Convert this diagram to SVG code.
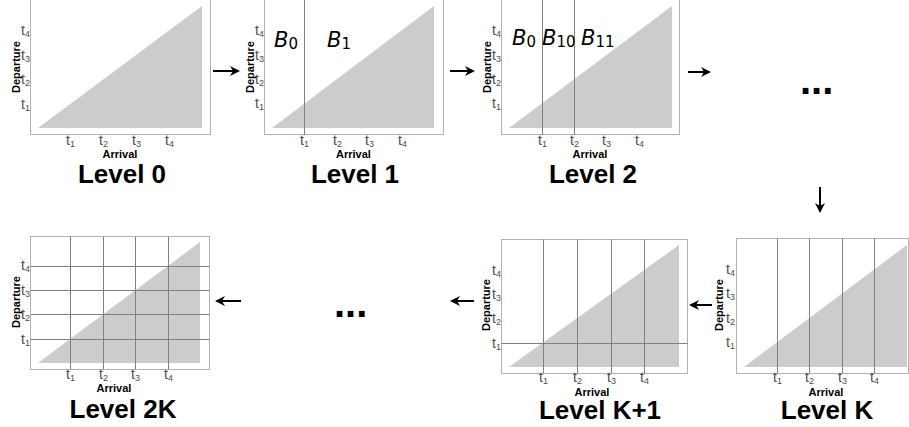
<svg xmlns="http://www.w3.org/2000/svg" width="909" height="427" viewBox="0 0 909 427">
<style>
.bg{fill:#ffffff}
.border{fill:none;stroke:#b3b3b3;stroke-width:1}
.tri{fill:#cccccc}
.grid{stroke:#808080;stroke-width:1;fill:none}
.tick{font-family:"Liberation Sans",Arial,sans-serif;font-size:14px;fill:#4d4d4d}
.sub{font-size:9px}
.axt{font-family:"Liberation Sans",Arial,sans-serif;font-weight:bold;font-size:11px;fill:#000}
.title{font-family:"Liberation Sans",Arial,sans-serif;font-weight:bold;font-size:26px;fill:#000;text-anchor:middle}
.B{font-family:"DejaVu Sans",sans-serif;font-style:italic;font-size:21px;fill:#000}
.Bs{font-style:normal;font-size:15px}
.dots{font-family:"Liberation Sans",Arial,sans-serif;font-weight:bold;font-size:40px;fill:#000}
.conn{stroke:#000;stroke-width:2;fill:none;marker-end:url(#ah)}
</style>
<defs>
<marker id="ah" viewBox="0 0 10 10" refX="8" refY="5" markerWidth="10" markerHeight="10" markerUnits="userSpaceOnUse" orient="auto">
<path d="M0,0 L10,5 L0,10 L3,5 Z" fill="#000"/>
</marker>
</defs>
<rect class="bg" x="0" y="0" width="909" height="427"/>

<g id="level-0">
<rect class="border" x="30.5" y="-0.5" width="180" height="135"/>
<polygon class="tri" points="38,128 202,6 202,128"/>
<g class="tick" text-anchor="end">
<text x="30" y="108.5">t<tspan class="sub" dy="2">1</tspan></text>
<text x="30" y="84">t<tspan class="sub" dy="2">2</tspan></text>
<text x="30" y="59.5">t<tspan class="sub" dy="2">3</tspan></text>
<text x="30" y="35">t<tspan class="sub" dy="2">4</tspan></text>
</g>
<g class="tick">
<text x="66" y="145">t<tspan class="sub" dy="2">1</tspan></text>
<text x="99" y="145">t<tspan class="sub" dy="2">2</tspan></text>
<text x="132" y="145">t<tspan class="sub" dy="2">3</tspan></text>
<text x="165" y="145">t<tspan class="sub" dy="2">4</tspan></text>
</g>
<text class="axt" text-anchor="middle" transform="translate(20,67) rotate(-90)">Departure</text>
<text class="axt" text-anchor="middle" x="120" y="158">Arrival</text>
<text class="title" x="122" y="183">Level 0</text>
</g>

<g id="level-1">
<rect class="border" x="264.5" y="-0.5" width="179" height="135"/>
<polygon class="tri" points="272,128 434,6 434,128"/>
<line class="grid" x1="304.5" y1="0" x2="304.5" y2="135"/>
<g class="tick" text-anchor="end">
<text x="264" y="108.4">t<tspan class="sub" dy="2">1</tspan></text>
<text x="264" y="83.6">t<tspan class="sub" dy="2">2</tspan></text>
<text x="264" y="59.5">t<tspan class="sub" dy="2">3</tspan></text>
<text x="264" y="34.6">t<tspan class="sub" dy="2">4</tspan></text>
</g>
<g class="tick">
<text x="300" y="145">t<tspan class="sub" dy="2">1</tspan></text>
<text x="333" y="145">t<tspan class="sub" dy="2">2</tspan></text>
<text x="365" y="145">t<tspan class="sub" dy="2">3</tspan></text>
<text x="398" y="145">t<tspan class="sub" dy="2">4</tspan></text>
</g>
<text class="axt" text-anchor="middle" transform="translate(254,67) rotate(-90)">Departure</text>
<text class="axt" text-anchor="middle" x="353.5" y="158">Arrival</text>
<text class="title" x="355" y="183">Level 1</text>
<text class="B" x="274" y="47">B<tspan class="Bs" dy="2">0</tspan></text>
<text class="B" x="327" y="47">B<tspan class="Bs" dy="2">1</tspan></text>
</g>

<g id="level-2">
<rect class="border" x="501.5" y="-0.5" width="178" height="135"/>
<polygon class="tri" points="509,128 672,6 672,128"/>
<line class="grid" x1="542.5" y1="0" x2="542.5" y2="135"/>
<line class="grid" x1="574.5" y1="0" x2="574.5" y2="135"/>
<g class="tick" text-anchor="end">
<text x="501" y="107.8">t<tspan class="sub" dy="2">1</tspan></text>
<text x="501" y="83.9">t<tspan class="sub" dy="2">2</tspan></text>
<text x="501" y="59.9">t<tspan class="sub" dy="2">3</tspan></text>
<text x="501" y="35.2">t<tspan class="sub" dy="2">4</tspan></text>
</g>
<g class="tick">
<text x="538" y="145">t<tspan class="sub" dy="2">1</tspan></text>
<text x="570" y="145">t<tspan class="sub" dy="2">2</tspan></text>
<text x="602" y="145">t<tspan class="sub" dy="2">3</tspan></text>
<text x="635" y="145">t<tspan class="sub" dy="2">4</tspan></text>
</g>
<text class="axt" text-anchor="middle" transform="translate(491,67) rotate(-90)">Departure</text>
<text class="axt" text-anchor="middle" x="590" y="158">Arrival</text>
<text class="title" x="593" y="183">Level 2</text>
<text class="B" x="512" y="45">B<tspan class="Bs" dy="2">0</tspan></text>
<text class="B" x="542" y="45">B<tspan class="Bs" dy="2">10</tspan></text>
<text class="B" x="581" y="45">B<tspan class="Bs" dy="2">11</tspan></text>
</g>

<g id="ellipsis-top">
<text class="dots" x="800" y="94">...</text>
</g>

<g id="level-k">
<rect class="border" x="736.5" y="238.5" width="172" height="135"/>
<polygon class="tri" points="744,367 907,245 907,367"/>
<line class="grid" x1="777.5" y1="238.5" x2="777.5" y2="373.5"/>
<line class="grid" x1="809.5" y1="238.5" x2="809.5" y2="373.5"/>
<line class="grid" x1="842.5" y1="238.5" x2="842.5" y2="373.5"/>
<line class="grid" x1="874.5" y1="238.5" x2="874.5" y2="373.5"/>
<g class="tick" text-anchor="end">
<text x="735" y="346.8">t<tspan class="sub" dy="2">1</tspan></text>
<text x="735" y="322.9">t<tspan class="sub" dy="2">2</tspan></text>
<text x="735" y="298.2">t<tspan class="sub" dy="2">3</tspan></text>
<text x="735" y="274.2">t<tspan class="sub" dy="2">4</tspan></text>
</g>
<g class="tick">
<text x="773" y="382">t<tspan class="sub" dy="2">1</tspan></text>
<text x="805" y="382">t<tspan class="sub" dy="2">2</tspan></text>
<text x="838" y="382">t<tspan class="sub" dy="2">3</tspan></text>
<text x="870" y="382">t<tspan class="sub" dy="2">4</tspan></text>
</g>
<text class="axt" text-anchor="middle" transform="translate(723,305) rotate(-90)">Departure</text>
<text class="axt" text-anchor="middle" x="826" y="396">Arrival</text>
<text class="title" x="827" y="419">Level K</text>
</g>

<g id="level-k1">
<rect class="border" x="501.5" y="239.5" width="186" height="134"/>
<polygon class="tri" points="509,367 679,245 679,367"/>
<line class="grid" x1="543.5" y1="239.5" x2="543.5" y2="373.5"/>
<line class="grid" x1="577.5" y1="239.5" x2="577.5" y2="373.5"/>
<line class="grid" x1="611.5" y1="239.5" x2="611.5" y2="373.5"/>
<line class="grid" x1="644.5" y1="239.5" x2="644.5" y2="373.5"/>
<line class="grid" x1="501.5" y1="343.5" x2="687.5" y2="343.5"/>
<g class="tick" text-anchor="end">
<text x="501" y="347.5">t<tspan class="sub" dy="2">1</tspan></text>
<text x="501" y="323">t<tspan class="sub" dy="2">2</tspan></text>
<text x="501" y="298.5">t<tspan class="sub" dy="2">3</tspan></text>
<text x="501" y="274.5">t<tspan class="sub" dy="2">4</tspan></text>
</g>
<g class="tick">
<text x="539" y="382">t<tspan class="sub" dy="2">1</tspan></text>
<text x="573" y="382">t<tspan class="sub" dy="2">2</tspan></text>
<text x="607" y="382">t<tspan class="sub" dy="2">3</tspan></text>
<text x="640" y="382">t<tspan class="sub" dy="2">4</tspan></text>
</g>
<text class="axt" text-anchor="middle" transform="translate(490,305) rotate(-90)">Departure</text>
<text class="axt" text-anchor="middle" x="592" y="396">Arrival</text>
<text class="title" x="600" y="419">Level K+1</text>
</g>

<g id="ellipsis-bottom">
<text class="dots" x="334" y="317">...</text>
</g>

<g id="level-2k">
<rect class="border" x="30.5" y="236.5" width="179" height="133"/>
<polygon class="tri" points="38,363 200,242 200,363"/>
<line class="grid" x1="70.5" y1="236.5" x2="70.5" y2="369.5"/>
<line class="grid" x1="103.5" y1="236.5" x2="103.5" y2="369.5"/>
<line class="grid" x1="135.5" y1="236.5" x2="135.5" y2="369.5"/>
<line class="grid" x1="168.5" y1="236.5" x2="168.5" y2="369.5"/>
<line class="grid" x1="30.5" y1="339.5" x2="209.5" y2="339.5"/>
<line class="grid" x1="30.5" y1="314.5" x2="209.5" y2="314.5"/>
<line class="grid" x1="30.5" y1="290.5" x2="209.5" y2="290.5"/>
<line class="grid" x1="30.5" y1="266.5" x2="209.5" y2="266.5"/>
<g class="tick" text-anchor="end">
<text x="30" y="343.6">t<tspan class="sub" dy="2">1</tspan></text>
<text x="30" y="319">t<tspan class="sub" dy="2">2</tspan></text>
<text x="30" y="295">t<tspan class="sub" dy="2">3</tspan></text>
<text x="30" y="270.4">t<tspan class="sub" dy="2">4</tspan></text>
</g>
<g class="tick">
<text x="66" y="379">t<tspan class="sub" dy="2">1</tspan></text>
<text x="99" y="379">t<tspan class="sub" dy="2">2</tspan></text>
<text x="131" y="379">t<tspan class="sub" dy="2">3</tspan></text>
<text x="164" y="379">t<tspan class="sub" dy="2">4</tspan></text>
</g>
<text class="axt" text-anchor="middle" transform="translate(20,302) rotate(-90)">Departure</text>
<text class="axt" text-anchor="middle" x="114" y="392">Arrival</text>
<text class="title" x="123" y="418">Level 2K</text>
</g>

<g id="connectors">
<line class="conn" x1="213" y1="71" x2="238" y2="71"/>
<line class="conn" x1="450" y1="71" x2="473" y2="71"/>
<line class="conn" x1="688" y1="72" x2="709" y2="72"/>
<line class="conn" x1="820" y1="187" x2="820" y2="211"/>
<line class="conn" x1="712" y1="305" x2="691" y2="305"/>
<line class="conn" x1="474" y1="301" x2="452" y2="301"/>
<line class="conn" x1="241" y1="301" x2="217" y2="301"/>
</g>
</svg>
